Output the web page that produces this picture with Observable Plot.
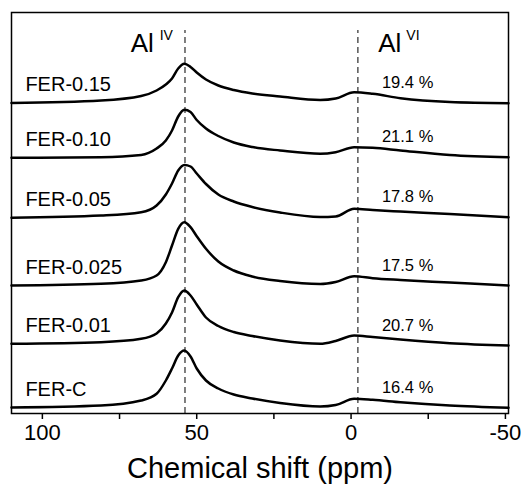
<!DOCTYPE html>
<html>
<head>
<meta charset="utf-8">
<script src="https://cdn.jsdelivr.net/npm/d3@7"></script>
<script src="https://cdn.jsdelivr.net/npm/@observablehq/plot@0.6"></script>
<style>
  html, body { margin: 0; padding: 0; background: #fff; }
  #chart { width: 524px; height: 496px; }
  svg { font-family: "Liberation Sans", Arial, sans-serif; }
</style>
</head>
<body>
<div id="chart"></div>
<script>
// Chemical shift grid (ppm) shared by all spectra
const ppm = [110, 81, 68, 63, 60, 58, 56, 54, 52, 50, 47, 43, 38, 32, 23, 10, 5, -1, -7, -16, -32, -51];

// Sample names (top to bottom) and Al(VI) fractions
const samples = ["FER-0.15", "FER-0.10", "FER-0.05", "FER-0.025", "FER-0.01", "FER-C"];
const alviPercent = ["19.4 %", "21.1 %", "17.8 %", "17.5 %", "20.7 %", "16.4 %"];

// Stacked spectra intensities (a.u., including vertical offset)
const fer015  = [310.5, 313, 317.5, 323, 329, 335, 345, 349.7, 346.5, 341, 334, 328, 323.5, 320, 317, 313.5, 315, 321.2, 319.7, 315.3, 311.5, 310.3];
const fer010  = [255.7, 256.3, 258.5, 265, 273, 283, 297, 303.7, 301.5, 293.5, 285, 277.5, 271, 266.5, 263, 259.7, 261.3, 266.3, 265.7, 263, 258.5, 256.3];
const fer005  = [195.7, 198, 201.3, 208, 219, 230, 243, 248.5, 247, 240, 229.5, 219, 212, 206.5, 201, 196.5, 197, 204.7, 203.5, 202, 199.5, 196.3];
const fer0025 = [128, 129.7, 133, 138, 151.3, 168, 184.7, 191.3, 186.3, 177.3, 164.7, 152, 143, 137, 132.5, 129.5, 131.5, 137.3, 135.3, 133.5, 131, 128];
const fer001  = [69.7, 71.3, 74.7, 80, 90, 101, 116.3, 123, 118, 109, 96, 87.5, 81.5, 77.5, 73, 69.7, 72.5, 78, 76.5, 74, 70.3, 68];
const ferC    = [6, 8, 13, 19.7, 33, 45, 58, 63, 57, 45, 33, 25, 19, 15, 10.5, 7, 8.5, 14.7, 13.7, 11.3, 8, 5.7];

// Reference lines: Al(IV) and Al(VI) positions (ppm) and their labels
const refShifts = [53.8, -2.2];
const refLabels = ["Al", "Al"];
const refSupers = ["IV", "VI"];

// Axis ticks
const majorTicks = [100, 50, 0, -50];
const minorTicks = [75, 25, -25];

const series = [fer015, fer010, fer005, fer0025, fer001, ferC];
const rows = samples.flatMap((s, i) => series[i].map((v, j) => ({sample: s, ppm: ppm[j], v})));
const sampleLabels = samples.map((s, i) => ({text: s, y: series[i][0]}));
const pctLabels = alviPercent.map((t, i) => ({text: t, y: series[i][series[i].length - 1]}));

// label anchors (ppm) relative to the reference lines
const labelX = [71.4, -8.8];
const supX = [62.0, -17.9];

const font = "'Liberation Sans', Arial, sans-serif";

const chart = Plot.plot({
  width: 524,
  height: 496,
  marginTop: 12,
  marginBottom: 83,
  marginLeft: 11,
  marginRight: 16,
  style: {fontFamily: font, background: "#fff", color: "#000"},
  x: {domain: [110, -51]},
  y: {domain: [0, 401], axis: null},
  marks: [
    Plot.ruleX(refShifts, {x: d => d, y1: 0, y2: 383, stroke: "#555", strokeWidth: 1.5, strokeDasharray: "6,4"}),
    Plot.line(rows, {x: "ppm", y: "v", z: "sample", stroke: "#000", strokeWidth: 2.5, curve: "monotone-x"}),
    Plot.frame({stroke: "#000", strokeWidth: 1.5}),
    Plot.axisX({ticks: majorTicks, tickSize: 6, tickPadding: 5, fontSize: 22, tickFormat: d => String(d), label: null, strokeWidth: 1.5}),
    Plot.axisX({ticks: minorTicks, tickSize: 6, tickFormat: () => "", label: null, strokeWidth: 1.5}),
    Plot.text(["Chemical shift (ppm)"], {frameAnchor: "bottom", dy: 64, fontSize: 29, fill: "#000"}),
    Plot.text(sampleLabels, {x: 105.5, y: d => d.y + 18, text: "text", textAnchor: "start", fontSize: 20, fill: "#000"}),
    Plot.text(pctLabels, {x: -10, y: d => d.y + 20, text: "text", textAnchor: "start", fontSize: 16.5, fill: "#000"}),
    Plot.text(refLabels, {x: (d, i) => labelX[i], y: 370, text: d => d, textAnchor: "start", fontSize: 26, fill: "#000"}),
    Plot.text(refSupers, {x: (d, i) => supX[i], y: 378, text: d => d, textAnchor: "start", fontSize: 14, fill: "#000"})
  ]
});
document.getElementById("chart").appendChild(chart);
</script>
</body>
</html>
